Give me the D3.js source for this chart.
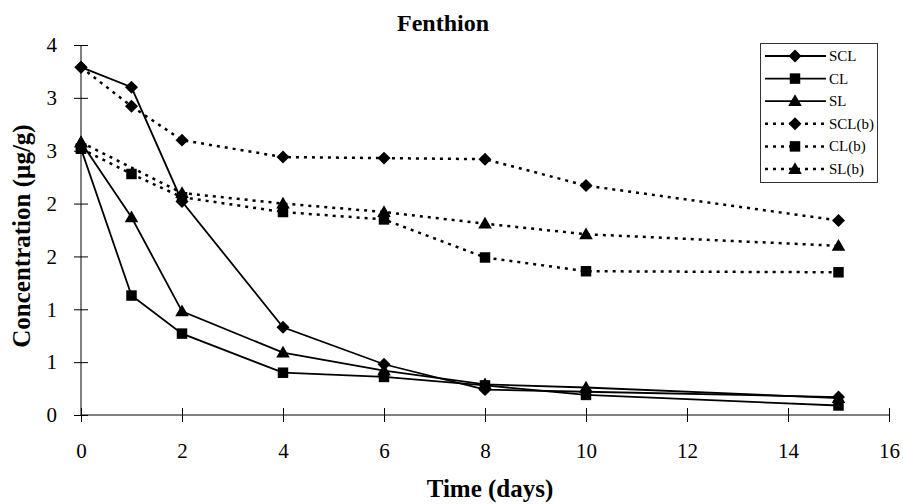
<!DOCTYPE html>
<html>
<head>
<meta charset="utf-8">
<script src="https://cdn.jsdelivr.net/npm/d3@7/dist/d3.min.js"></script>
<style>
  html, body { margin: 0; padding: 0; background: #fff; }
  svg text { font-family: "Liberation Serif", "Times New Roman", serif; fill: #000; }
</style>
</head>
<body>
<svg id="chart" width="903" height="504"></svg>
<script>
// ---- data ----
const days = [0, 1, 2, 4, 6, 8, 10, 15];
const seriesNames = ["SCL", "CL", "SL", "SCL(b)", "CL(b)", "SL(b)"];
const SCL   = [3.29, 3.10, 2.02, 0.83, 0.48, 0.24, 0.22, 0.17];
const CL    = [2.52, 1.13, 0.77, 0.40, 0.36, 0.28, 0.19, 0.09];
const SL    = [2.58, 1.87, 0.98, 0.59, 0.42, 0.29, 0.26, 0.16];
const SCLb  = [3.29, 2.92, 2.60, 2.44, 2.43, 2.42, 2.17, 1.84];
const CLb   = [2.52, 2.28, 2.06, 1.92, 1.85, 1.49, 1.36, 1.35];
const SLb   = [2.58, null, 2.10, 2.00, 1.92, 1.81, 1.71, 1.60];
const xTicks = [0, 2, 4, 6, 8, 10, 12, 14, 16];
const yTicks = [0, 0.5, 1, 1.5, 2, 2.5, 3, 3.5];
const yTickLabels = ["0", "1", "1", "2", "2", "3", "3", "4"];
const title = "Fenthion";
const xTitle = "Time (days)";
const yTitle = "Concentration (\u00B5g/g)";

const seriesValues = [SCL, CL, SL, SCLb, CLb, SLb];
const seriesMarker = ["diamond", "square", "triangle", "diamond", "square", "triangle"];
const seriesDotted = [false, false, false, true, true, true];

// ---- layout ----
const svg = d3.select("#chart");
const x = d3.scaleLinear().domain([0, 16]).range([81, 889]);
const y = d3.scaleLinear().domain([0, 3.5]).range([415, 45]);

const symbolGen = {
  diamond: d3.symbol().type(d3.symbolSquare).size(84),
  square: d3.symbol().type(d3.symbolSquare).size(110),
  triangle: d3.symbol().type(d3.symbolTriangle).size(80)
};
function markerTransform(kind, px, py) {
  if (kind === "diamond") return `translate(${px},${py}) rotate(45)`;
  if (kind === "triangle") return `translate(${px},${py + 1})`;
  return `translate(${px},${py})`;
}

// axes
const xAxis = d3.axisBottom(x).tickValues(xTicks).tickSize(7).tickPadding(21).tickFormat(d3.format("d"));
const gx = svg.append("g").attr("transform", `translate(0,${y(0)})`).call(xAxis);
gx.selectAll(".tick line").attr("y1", -7).attr("stroke", "#000");
gx.select(".domain").attr("stroke", "#000").attr("d", `M${x(0)},0H${x(16)}`);
gx.selectAll("text").attr("font-size", 21).attr("font-family", "Liberation Serif");

const yAxis = d3.axisLeft(y).tickValues(yTicks).tickSize(7).tickPadding(17)
  .tickFormat((d, i) => yTickLabels[i]);
const gy = svg.append("g").attr("transform", `translate(${x(0)},0)`).call(yAxis);
gy.selectAll(".tick line").attr("x1", 7).attr("stroke", "#000");
gy.select(".domain").attr("stroke", "#000").attr("d", `M0,${y(0)}V${y(3.5)}`);
gy.selectAll("text").attr("font-size", 21).attr("font-family", "Liberation Serif");

// series
const line = d3.line().x(d => x(d[0])).y(d => y(d[1]));
seriesValues.forEach((vals, si) => {
  const pts = days.map((d, i) => [d, vals[i]]).filter(p => p[1] !== null);
  svg.append("path")
    .attr("d", line(pts))
    .attr("fill", "none")
    .attr("stroke", "#000")
    .attr("stroke-width", seriesDotted[si] ? 2.5 : 1.8)
    .attr("stroke-dasharray", seriesDotted[si] ? "3,5" : null);
});
seriesValues.forEach((vals, si) => {
  const pts = days.map((d, i) => [d, vals[i]]).filter(p => p[1] !== null);
  svg.append("g").selectAll("path").data(pts).join("path")
    .attr("d", symbolGen[seriesMarker[si]]())
    .attr("transform", p => markerTransform(seriesMarker[si], x(p[0]), y(p[1])))
    .attr("fill", "#000");
});

// titles
svg.append("text").attr("x", 443).attr("y", 31).attr("text-anchor", "middle")
  .attr("font-size", 24).attr("font-weight", "bold").text(title);
svg.append("text").attr("x", 490).attr("y", 497).attr("text-anchor", "middle")
  .attr("font-size", 25).attr("font-weight", "bold").text(xTitle);
svg.append("text").attr("transform", "translate(30,236) rotate(-90)").attr("text-anchor", "middle")
  .attr("font-size", 25).attr("font-weight", "bold").text(yTitle);

// legend
const lg = svg.append("g");
lg.append("rect").attr("x", 760.5).attr("y", 43.5).attr("width", 117).attr("height", 139)
  .attr("fill", "#fff").attr("stroke", "#333").attr("stroke-width", 1);
const rowY = d3.scalePoint().domain(seriesNames).range([56, 169]);
seriesNames.forEach((name, si) => {
  const ry = rowY(name);
  lg.append("line").attr("x1", 765).attr("x2", 826).attr("y1", ry).attr("y2", ry)
    .attr("stroke", "#000")
    .attr("stroke-width", seriesDotted[si] ? 2.5 : 1.8)
    .attr("stroke-dasharray", seriesDotted[si] ? "3,5" : null);
  lg.append("path").attr("d", symbolGen[seriesMarker[si]]())
    .attr("transform", markerTransform(seriesMarker[si], 795, ry)).attr("fill", "#000");
  lg.append("text").attr("x", 829).attr("y", ry + 5).attr("font-size", 15).text(name);
});
</script>
</body>
</html>
